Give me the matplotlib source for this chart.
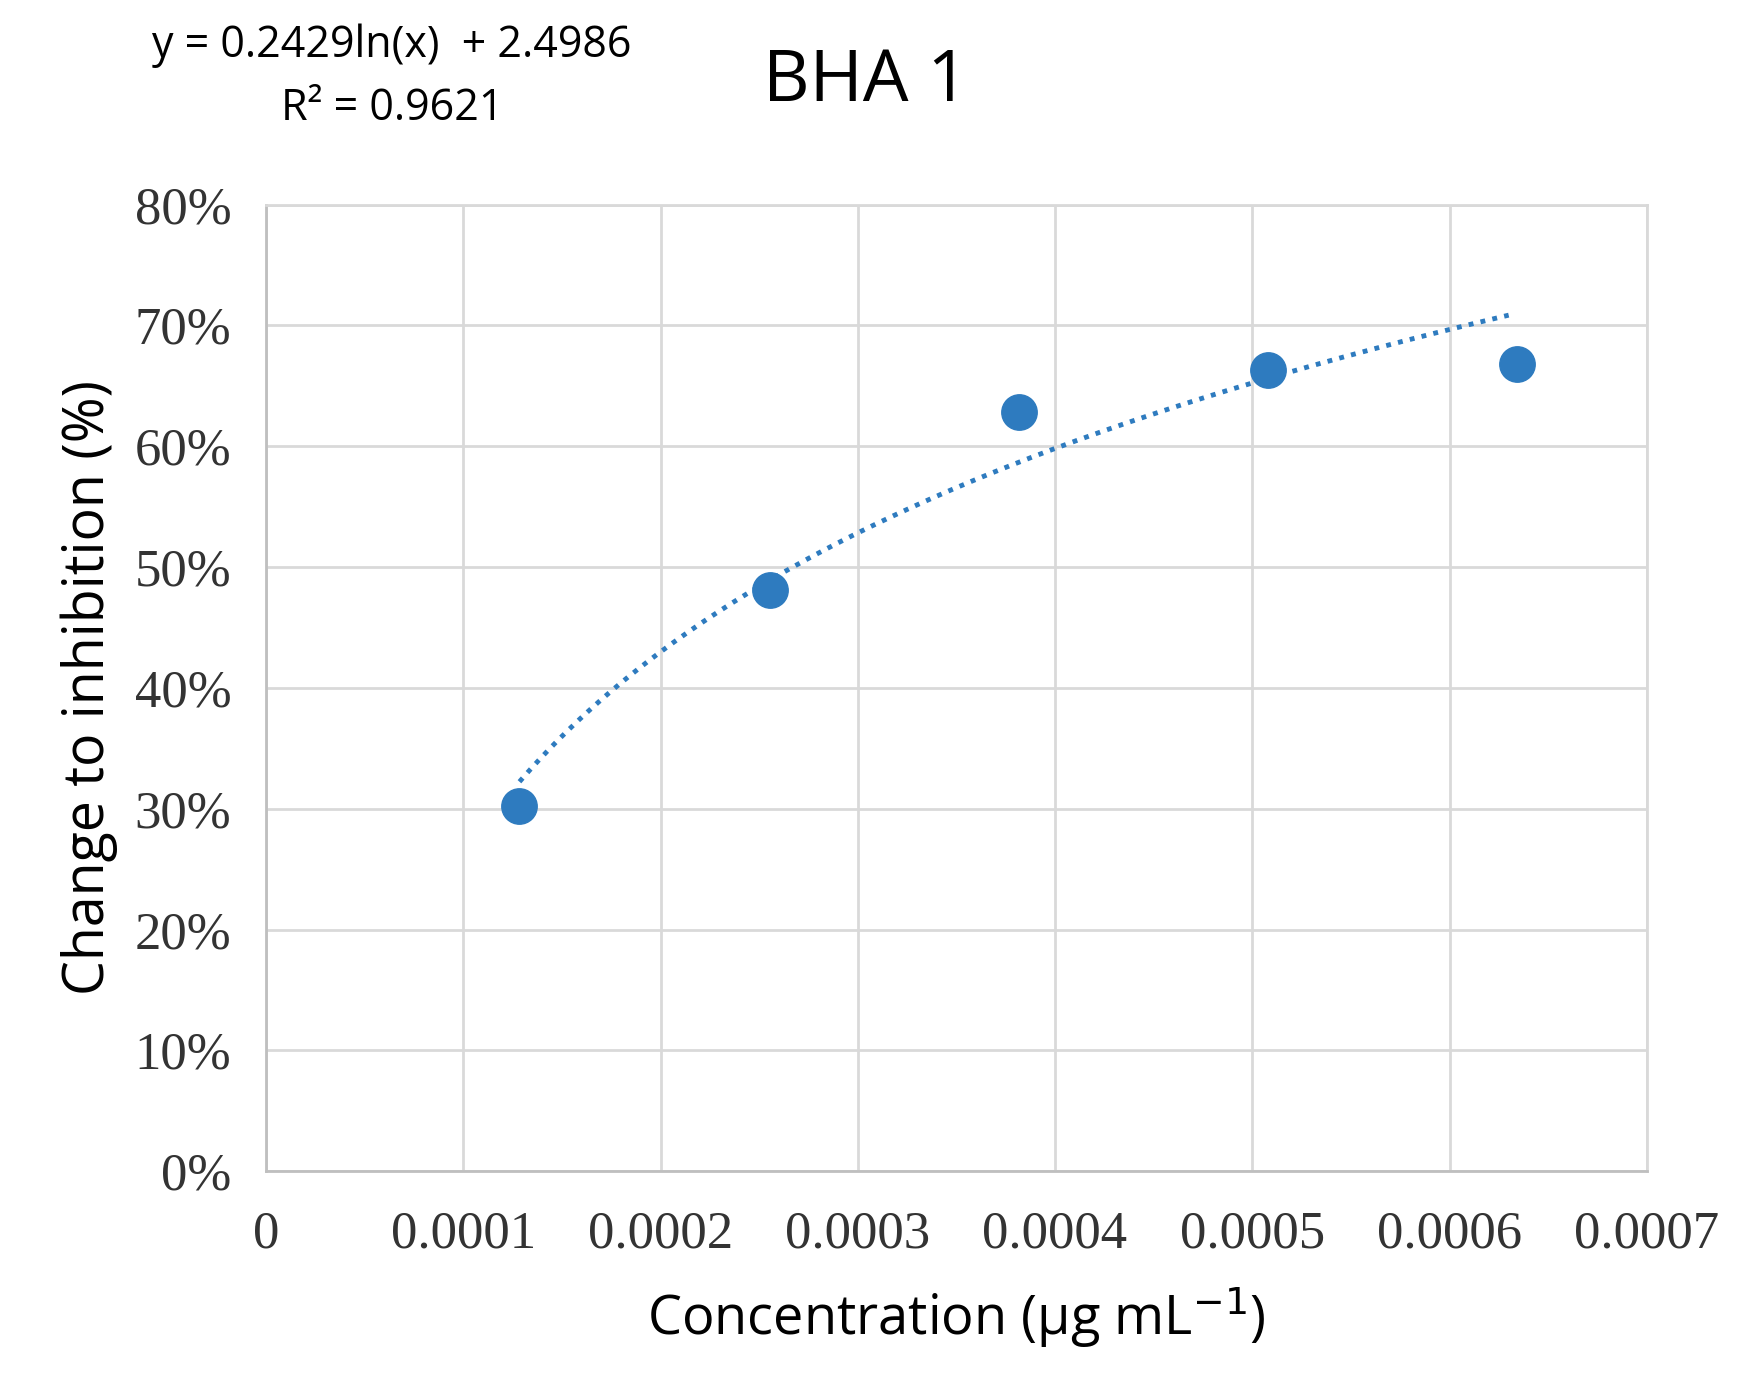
import numpy as np
import matplotlib
matplotlib.use("Agg")
import matplotlib.pyplot as plt
from matplotlib.ticker import FuncFormatter, MultipleLocator

conc = [0.0001285, 0.0002553, 0.000382, 0.000508, 0.000634]
inhib = [0.302, 0.481, 0.628, 0.663, 0.668]
coef_a, coef_b = 0.2429, 2.4986

fig = plt.figure(figsize=(17.5, 13.73), dpi=100)
ax = fig.add_axes([0.152, 0.147, 0.789, 0.704])
ax.scatter(conc, inhib, s=650, color="#2e7bbf", zorder=3)
xt = np.linspace(conc[0], 0.00063, 200)
ax.plot(xt, coef_a*np.log(xt)+coef_b, linestyle=(0, (1, 1.5)), color="#2e7bbf", lw=3.5, zorder=2)
ax.set_xlim(0, 0.0007); ax.set_ylim(0, 0.8)
ax.xaxis.set_major_locator(MultipleLocator(0.0001))
ax.yaxis.set_major_locator(MultipleLocator(0.1))
ax.xaxis.set_major_formatter(FuncFormatter(lambda v, p: "0" if abs(v) < 1e-12 else f"{v:.4f}"))
ax.yaxis.set_major_formatter(FuncFormatter(lambda v, p: f"{v*100:.0f}%"))
ax.grid(True, color="#d9d9d9", lw=2)
for s in ["top", "right"]:
    ax.spines[s].set_color("#d9d9d9"); ax.spines[s].set_linewidth(2)
for s in ["left", "bottom"]:
    ax.spines[s].set_color("#bfbfbf"); ax.spines[s].set_linewidth(2)
ax.tick_params(axis="x", length=0, pad=28, labelsize=38, labelcolor="#333333")
ax.tick_params(axis="y", length=0, pad=25, labelsize=38, labelcolor="#333333")
for t in ax.get_xticklabels() + ax.get_yticklabels():
    t.set_family("Liberation Serif")
ax.set_xlabel("Concentration (µg mL$^{-1}$)", fontsize=39, family="Open Sans", labelpad=20)
ax.set_ylabel("Change to inhibition (%)", fontsize=40, family="Open Sans", labelpad=12)
fig.text(0.495, 0.94, "BHA 1", fontsize=52, family="Open Sans", ha="center", va="center")
fig.text(0.224, 0.967, "y = 0.2429ln(x)  + 2.4986", fontsize=31, family="Open Sans", ha="center", va="center")
fig.text(0.224, 0.921, "R² = 0.9621", fontsize=31, family="Open Sans", ha="center", va="center")
fig.savefig("out.png", dpi=100)
